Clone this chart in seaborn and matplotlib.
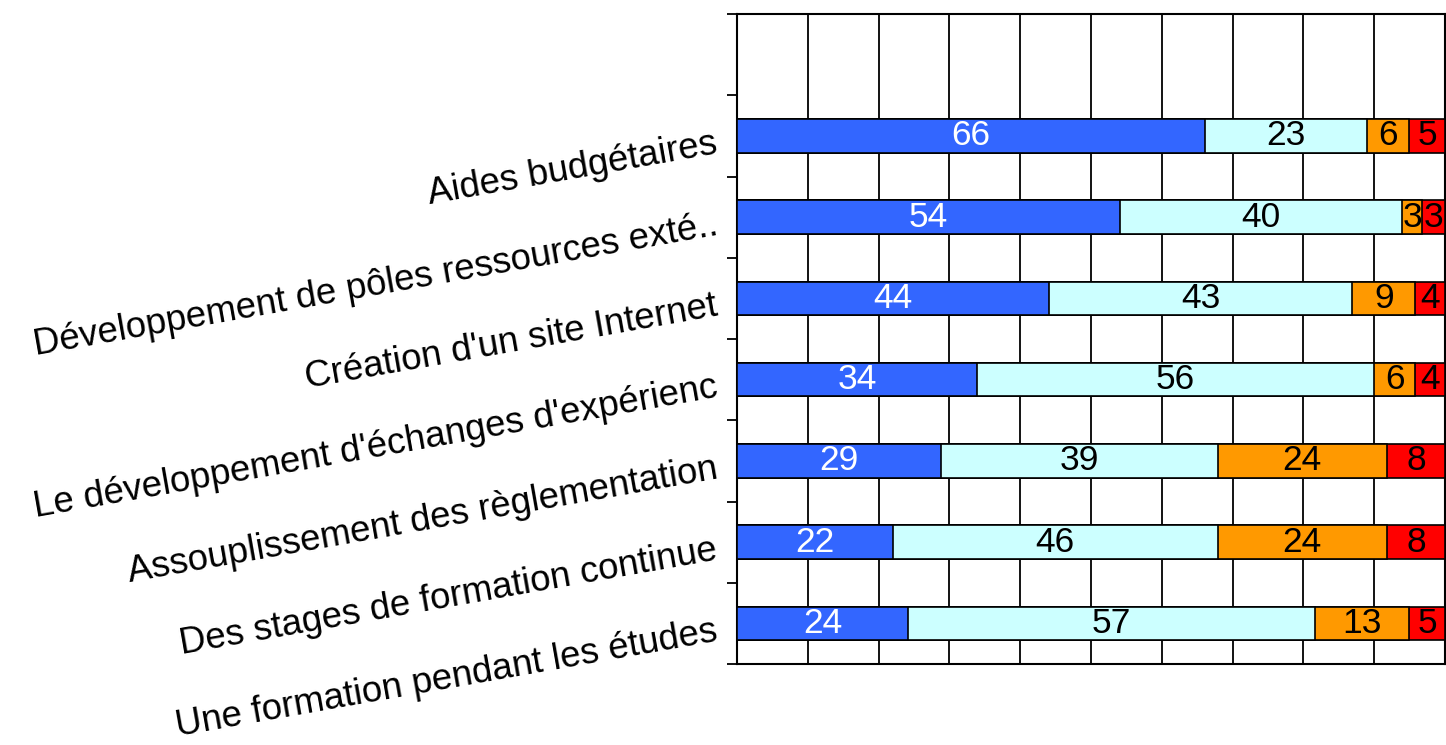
import matplotlib
matplotlib.use("Agg")
import matplotlib.pyplot as plt
import matplotlib.transforms as mtransforms
import seaborn as sns
import pandas as pd
import numpy as np

# categories (top to bottom) and the four stacked series, in percent
categories = ["Aides budgétaires",
              "Développement de pôles ressources exté..",
              "Création d'un site Internet",
              "Le développement d'échanges d'expérienc",
              "Assouplissement des règlementation",
              "Des stages de formation continue",
              "Une formation pendant les études"]
serie_1 = [66.1, 54.1, 44.1, 33.9, 28.8, 22.0, 24.2]
serie_2 = [22.9, 39.8, 42.8, 56.1, 39.1, 45.9, 57.4]
serie_3 = [5.9, 2.9, 8.9, 5.8, 23.9, 23.9, 13.3]
serie_4 = [5.1, 3.2, 4.2, 4.2, 8.2, 8.2, 5.1]

colors = ["#3366FF", "#CCFFFF", "#FF9900", "#FF0000"]
text_colors = ["white", "black", "black", "black"]

sns.set_style("white")
plt.rcParams["font.family"] = ["Liberation Sans", "DejaVu Sans"]

series = [serie_1, serie_2, serie_3, serie_4]
cum = np.cumsum(np.array(series), axis=0)

# empty slot on top, like the original chart
order = [""] + categories
df = pd.DataFrame({"cat": categories})
for k in range(4):
    df["c%d" % k] = cum[k]

fig = plt.figure(figsize=(14.46, 7.45), dpi=100)
ax = fig.add_axes([737/1446, 81/745, 708/1446, 650/745])

# draw the cumulative bars from the longest to the shortest
for k in range(3, -1, -1):
    sns.barplot(data=df, x="c%d" % k, y="cat", order=order, orient="h",
                color=colors[k], saturation=1, width=0.41,
                edgecolor="black", linewidth=1.2, ax=ax, zorder=3)

# value labels
for k in range(4):
    for i, v in enumerate(series[k]):
        xc = cum[k][i] - v / 2
        ax.text(xc, i + 1, "%d" % round(v), ha="center", va="center",
                fontsize=25.5, color=text_colors[k], zorder=4)

ax.set_xlim(0, 100)
ax.set_ylim(7.5, -0.5)
ax.set_xticks(np.arange(10, 100, 10))
ax.set_xticklabels([])
ax.tick_params(axis="x", length=0)
ax.xaxis.grid(True, color="black", linewidth=1.3, zorder=0)
ax.set_axisbelow(True)
ax.set_yticks(np.arange(-0.5, 8, 1))
ax.set_yticklabels([])
ax.tick_params(axis="y", left=True, length=7, width=1.3, color="black")
ax.set_xlabel("")
ax.set_ylabel("")
for s in ax.spines.values():
    s.set_visible(True)
    s.set_color("black")
    s.set_linewidth(1.5)

# rotated category labels
trans = mtransforms.blended_transform_factory(fig.transFigure, ax.transData)
for i, c in enumerate(categories):
    ax.text(719/1446, i + 1 + 0.21, c, transform=trans, ha="right",
            va="baseline", rotation=10, rotation_mode="anchor",
            fontsize=26.4, color="black", clip_on=False)

fig.savefig("out.png", dpi=100)
